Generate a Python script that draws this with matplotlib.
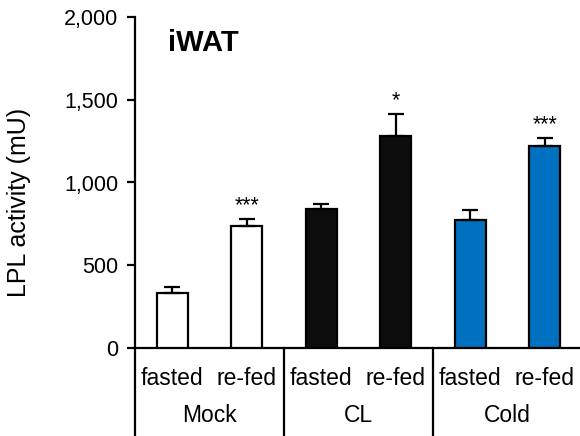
import matplotlib
matplotlib.use("Agg")
import matplotlib.pyplot as plt
import matplotlib.transforms as mtransforms

plt.rcParams['font.family'] = ['Liberation Sans', 'DejaVu Sans']

groups = ["Mock", "CL", "Cold"]
conditions = ["fasted", "re-fed"]
values = [332, 737, 840, 1283, 773, 1219]
errors = [38, 40, 30, 130, 62, 50]
bar_colors = ["#ffffff", "#ffffff", "#0d0d0d", "#0d0d0d", "#0070c0", "#0070c0"]
stars = ["", "***", "", "*", "", "***"]
yticks = [0, 500, 1000, 1500, 2000]
title = "iWAT"
ylabel = "LPL activity (mU)"

W, H = 580, 436
fig = plt.figure(figsize=(W / 100, H / 100), dpi=100)
ax = fig.add_axes([135 / W, 1 - 348 / H, (582 - 135) / W, (348 - 17) / H])

x = list(range(len(values)))
ax.bar(x, values, width=0.41, color=bar_colors, edgecolor="black", linewidth=1.6,
       yerr=[[0] * len(errors), errors],
       error_kw=dict(ecolor="black", elinewidth=1.6, capsize=5.5, capthick=1.6),
       zorder=3)

for xi, v, e, s in zip(x, values, errors, stars):
    if s:
        ax.annotate(s, (xi, v + e), xytext=(0, 2), textcoords="offset points",
                    ha="center", va="bottom", fontsize=15.5)

ax.set_xlim(-0.5, 5.5)
ax.set_ylim(0, 2000)
ax.set_yticks(yticks)
ax.set_yticklabels([f"{t:,}" for t in yticks], fontsize=15.5)
ax.tick_params(axis="y", direction="out", length=6, width=1.6, pad=6)
ax.set_xticks([])
for side in ["top", "right"]:
    ax.spines[side].set_visible(False)
ax.spines["left"].set_linewidth(1.6)
ax.spines["bottom"].set_linewidth(1.6)

ax.text(0.073, 0.92, title, transform=ax.transAxes, fontsize=21, fontweight="bold",
        ha="left", va="center")

trans = mtransforms.blended_transform_factory(ax.transData, ax.transAxes)
bottom = -(436 - 348) / (348 - 17)
for xi in [-0.5, 1.5, 3.5]:
    ax.plot([xi, xi], [0, bottom], transform=trans, color="black", lw=1.6, clip_on=False)

sub_y = -(378 - 348) / (348 - 17)
grp_y = -(415 - 348) / (348 - 17)
for i in range(len(values)):
    ax.text(i, sub_y, conditions[i % 2], transform=trans, ha="center", va="center",
            fontsize=16.5, clip_on=False)
for g, name in enumerate(groups):
    ax.text(2 * g + 0.5, grp_y, name, transform=trans, ha="center", va="center",
            fontsize=16.5, clip_on=False)

fig.text(19 / W, 1 - 202 / H, ylabel, rotation=90, ha="center", va="center", fontsize=18)

fig.savefig("out.png", dpi=100)
